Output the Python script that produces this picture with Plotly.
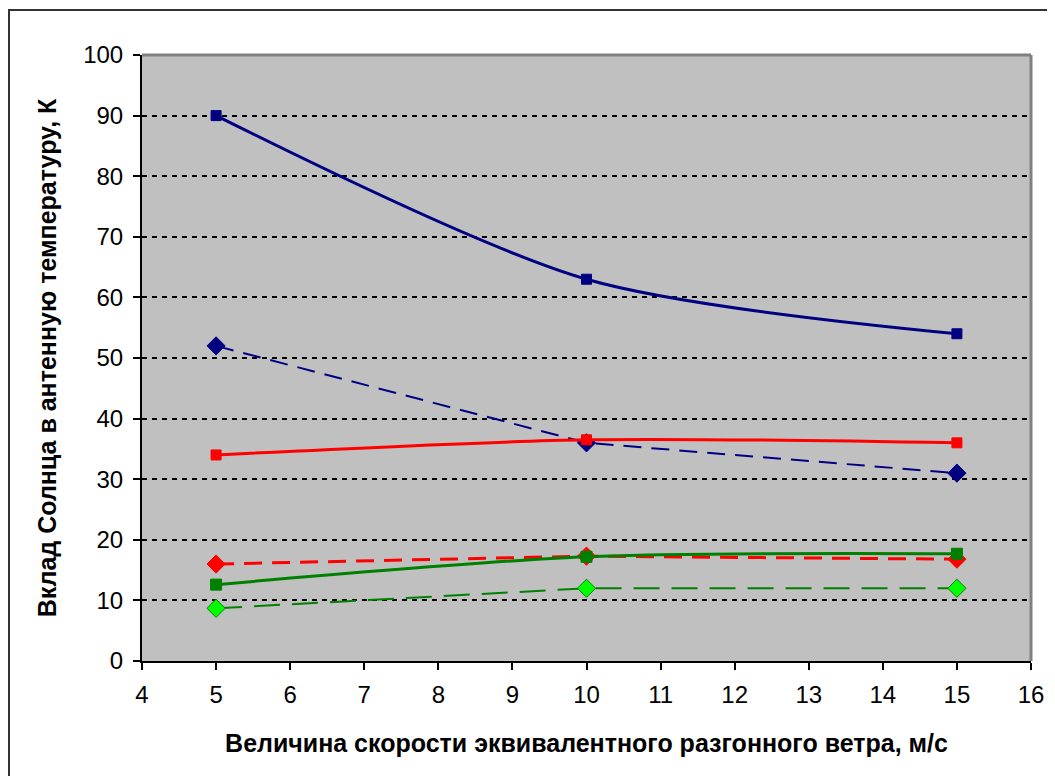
import plotly.graph_objects as go

x_speed = [5, 10, 15]
navy_solid = [90, 63, 54]
navy_dash = [52, 36, 31]
red_solid = [34, 36.5, 36]
red_dash = [16, 17.3, 16.8]
green_solid = [12.6, 17.2, 17.7]
green_dash = [8.7, 12, 12]

x_title = "Величина скорости эквивалентного разгонного ветра, м/с"
y_title = "Вклад Солнца в антенную температуру, К"

# page has 8px body margin, so figure is offset by (8, 8)
OFF = 8
W, H = 1055 - OFF, 776 - OFF
L, R, T, B = 142 - OFF, 24, 55 - OFF, 115

fig = go.Figure()

def add(y, color, dash, width, symbol, msize, mcolor, mline=None, shape="spline"):
    fig.add_trace(go.Scatter(
        x=x_speed, y=y, mode="lines+markers",
        line=dict(color=color, width=width, dash=dash, shape=shape, smoothing=0.8),
        marker=dict(symbol=symbol, size=msize, color=mcolor,
                    line=dict(color=mline or mcolor, width=1)),
        showlegend=False, cliponaxis=False))

add(navy_solid, "#000080", "solid", 3, "square", 10, "#000080")
add(navy_dash, "#000080", "18px,10px", 2, "diamond", 14, "#000080", shape="linear")
add(red_solid, "#ff0000", "solid", 3, "square", 10, "#ff0000")
add(red_dash, "#ff0000", "18px,10px", 3, "diamond", 14, "#ff0000", shape="linear")
add(green_solid, "#008000", "solid", 3, "square", 11, "#008000")
add(green_dash, "#008000", "26px,12px", 2, "diamond", 14, "#00ff00", "#008000", shape="linear")

fig.update_layout(
    width=W, height=H,
    margin=dict(l=L, r=R, t=T, b=B),
    paper_bgcolor="white",
    plot_bgcolor="#c0c0c0",
    font=dict(family="Liberation Sans, Arial", size=24, color="black"),
    xaxis=dict(range=[4, 16], dtick=1, tick0=4, showgrid=False, zeroline=False,
               showline=True, linecolor="black", linewidth=2,
               ticks="outside", ticklen=7, tickwidth=2, tickcolor="black",
               tickfont=dict(size=24), ticklabelstandoff=4,
               title=dict(text="<b>" + x_title + "</b>", font=dict(size=25), standoff=28)),
    yaxis=dict(range=[0, 100], dtick=10, showgrid=True, gridcolor="black",
               griddash="5px,5px", gridwidth=1.5, zeroline=False,
               showline=True, linecolor="black", linewidth=2,
               ticks="outside", ticklen=7, tickwidth=2, tickcolor="black",
               tickfont=dict(size=24), ticklabelstandoff=5,
               title=dict(text="<b>" + y_title + "</b>", font=dict(size=25), standoff=19)),
)

# gray plot-area border at top and right
fig.add_shape(type="line", xref="paper", yref="paper", x0=0, x1=1, y0=1, y1=1,
              line=dict(color="#808080", width=3), layer="above")
fig.add_shape(type="line", xref="paper", yref="paper", x0=1, x1=1, y0=0, y1=1,
              line=dict(color="#808080", width=3), layer="above")

# outer chart border (page coords: left 8, top 10, extends past right/bottom)
pw, ph = W - L - R, H - T - B
def px(v): return (v - OFF - L) / pw
def py(v): return (H - B - (v - OFF)) / ph
fig.add_shape(type="rect", xref="paper", yref="paper",
              x0=px(9), x1=px(1070), y0=py(790), y1=py(10),
              line=dict(color="#333333", width=2), layer="above")

fig.write_html("out.html")
